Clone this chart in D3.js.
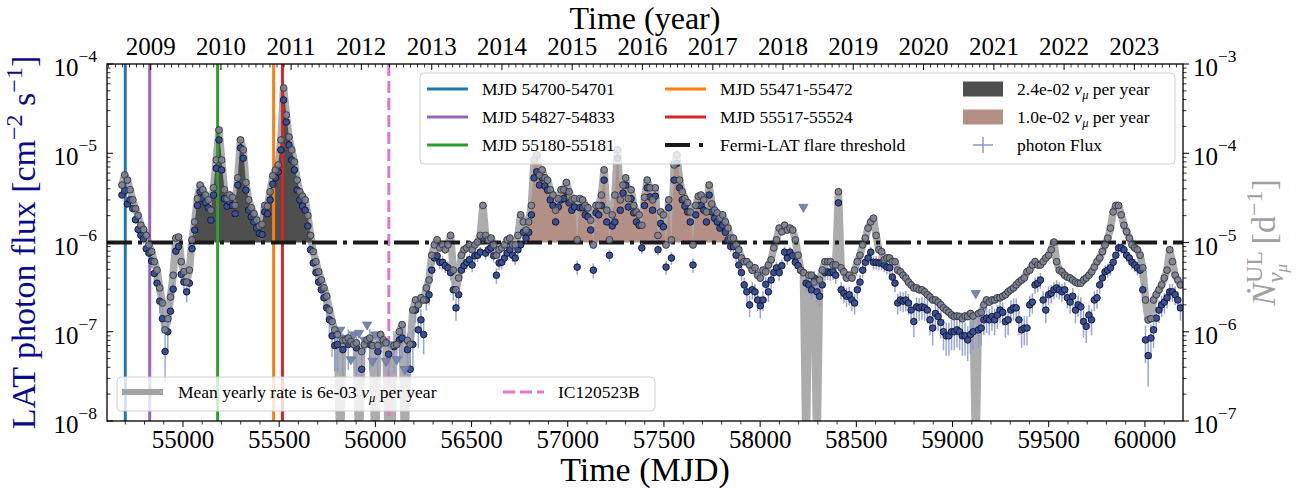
<!DOCTYPE html>
<html>
<head>
<meta charset="utf-8">
<script src="https://cdn.jsdelivr.net/npm/d3@7"></script>
<style>
  body { margin: 0; background: #fff; }
  svg text { font-family: "Liberation Serif", "Times New Roman", serif; }
</style>
</head>
<body>
<svg id="chart" width="1309" height="493"></svg>
<script>
// ---- Light curve: 14-day bins starting at MJD 54683 ----
const binStart = 54683;
const binWidth = 14;

// LAT photon flux per bin, in 1e-7 cm^-2 s^-1 (null: only an upper limit)
const flux = [
  34, 38, 27, 30, 24, 18, 14, 12, 11, 8.5, 7.6, 6.2, 4.5, 3.5, 2.2, 1.4, 0.6, 1.0, 1.7, 3.0,
  8.0, 9.0, 4.4, 3.6, 2.8, 3.5, 8.5, 13.8, 26, 37, 31, 28, 24.5, 17.8, 34, 68, 141, 65, 31, 25.5,
  28.5, 26, 21, 44, 115, 88, 38.6, 23, 19.4, 17, 14.5, 12.6, 12.3, 22, 21, 30, 45, 53, 62, 109,
  395, 224, 124, 84, 65, 38.6, 30, 25.5, 23, 15.3, 8.3, 5.9, 4.6, 3.6, 2.95, 2.4, 1.85, 1.36, 0.9, 0.7,
  0.72, null, 0.63, null, 0.72, null, null, 0.66, null, 0.38, null, null, 0.72, null, null, 0.6, null, null, null, 0.56,
  null, 0.68, null, 0.81, 0.85, null, 0.63, 0.38, 0.72, 1.75, 1.05, 1.36, 0.93, 2.27, 2.6, 4.9, 6.7, 7.1, 6.0, 6.0,
  5.5, 5.2, 4.6, 2.95, 1.85, 2.6, 4.9, 5.5, 6.0, 6.4, 5.6, 7.1, 7.2, 7.8, 11.2, 7.6, 8.3, 8.7, 7.1, 4.3,
  5.9, 6.0, 6.7, 7.6, 8.3, 7.2, 6.7, 8.3, 9.4, 13, 11.2, 13, 20.4, 53, 62, 44, 53, 43, 38.6, 30,
  26, 17, 25, 30, 31, 37, 27.8, 23, 25, 5.3, 24.5, 24.5, 20.4, 19.4, 13.8, 4.9, 21.5, 20.4, 26, 50,
  17, 7.2, 15.3, 17, 88, 23, 35.8, 44, 25, 31, 21.5, 17, 15.6, 8.7, 26, 41, 32.4, 23, 33, 8.3,
  16.3, 15, 5.3, 24.5, 6.7, 50, 77, 41, 30, 25.5, 22, 17, 5.6, 20.4, 26, 26, 23, 17, 34, 22,
  18.7, 17, 14.5, 15.6, 13, 10.7, 9.0, 9.0, 7.2, 5.6, 4.6, 3.35, 2.8, 2.0, 2.95, 2.8, 2.27, 1.95, 2.27, 3.4,
  2.8, 3.8, 4.6, 5.2, 4.6, 5.5, 7.8, 6.7, 7.8, 7.1, 6.0, 5.5, 4.9, null, 3.5, 3.35, 2.95, 4.0, 2.8, 2.5,
  3.35, 4.6, 4.7, 4.6, 4.7, 4.3, 27.8, 2.95, 2.7, 2.5, 2.6, 2.27, 2.1, 2.95, 3.6, 4.9, 6.0, 6.7, 7.8, 6.0,
  6.0, 5.9, 5.9, 5.6, 5.3, 5.2, 4.1, 3.5, 2.1, 2.27, 2.2, 2.27, 2.1, 1.75, 1.3, 1.9, 1.85, 1.9, 1.85, 1.75,
  1.36, 1.1, 1.6, 1.48, 1.27, 1.0, 0.9, 0.9, 1.0, 1.0, 1.05, 1.0, 0.9, 0.9, 0.81, 0.93, 1.0, null, 1.05, 1.1,
  1.36, 1.42, 1.36, 1.48, 1.36, 1.54, 1.75, 1.65, 1.3, 1.36, 1.75, 1.85, 1.85, 1.36, 1.05, 1.1, 1.1, 2.0, 2.15, 3.35,
  3.5, 3.8, 2.27, 1.75, 2.6, 2.7, 2.95, 3.1, 2.95, 2.8, 2.95, 2.4, 2.15, 2.5, 1.75, 2.0, 1.9, 1.3, 1.15, 1.54,
  1.36, 2.27, 2.4, 3.35, 4.0, 4.7, 4.9, 5.2, 6.0, 7.2, 8.7, 8.7, 8.3, 7.2, 6.7, 6.0, 5.6, 5.2, 4.9, 2.95,
  0.81, 0.54, 0.85, 1.05, 1.42, 1.75, 2.0, 2.15, 2.4, 2.8, 2.8, 2.6, 2.27, 1.85
];

// Relative flux uncertainty per bin, percent
const fluxErr = [
  7, 7, 8, 8, 9, 10, 12, 12, 13, 14, 15, 17, 20, 22, 26, 32, 55, 38, 28, 22,
  14, 13, 20, 22, 24, 22, 14, 12, 8, 7, 7, 8, 8, 10, 7, 5, 4, 5, 7, 8,
  8, 8, 9, 6, 4, 5, 7, 9, 10, 10, 11, 12, 12, 9, 9, 8, 6, 6, 5, 4,
  3, 3, 4, 5, 5, 7, 8, 8, 9, 11, 14, 17, 19, 21, 23, 25, 28, 33, 42, 48,
  50, 0, 52, 0, 48, 0, 0, 50, 0, 60, 0, 0, 48, 0, 0, 52, 0, 0, 0, 55,
  0, 50, 0, 45, 42, 0, 52, 62, 48, 28, 38, 33, 40, 24, 23, 18, 16, 16, 17, 17,
  17, 18, 19, 24, 28, 25, 18, 17, 17, 16, 17, 16, 16, 15, 12, 15, 14, 14, 16, 20,
  17, 17, 16, 15, 14, 16, 16, 14, 13, 11, 12, 11, 9, 6, 6, 7, 6, 7, 7, 8,
  8, 10, 8, 8, 8, 7, 8, 9, 8, 18, 8, 8, 9, 9, 11, 19, 9, 9, 8, 6,
  10, 16, 10, 10, 5, 9, 7, 7, 8, 8, 9, 10, 10, 14, 8, 7, 8, 9, 8, 14,
  10, 11, 18, 8, 16, 6, 5, 7, 8, 8, 9, 10, 18, 9, 8, 8, 9, 10, 7, 9,
  10, 10, 11, 11, 12, 13, 14, 13, 16, 17, 19, 21, 23, 27, 22, 23, 25, 28, 25, 21,
  23, 20, 19, 17, 19, 17, 15, 16, 15, 16, 17, 17, 18, 0, 21, 21, 22, 20, 23, 24,
  21, 19, 19, 19, 19, 20, 8, 22, 23, 24, 24, 25, 26, 22, 21, 18, 17, 16, 15, 17,
  17, 17, 17, 17, 17, 18, 20, 21, 26, 25, 25, 25, 26, 28, 33, 28, 28, 28, 28, 29,
  33, 36, 30, 31, 34, 38, 40, 40, 38, 38, 37, 38, 40, 40, 42, 39, 38, 0, 37, 36,
  33, 32, 33, 31, 33, 30, 29, 29, 34, 33, 29, 28, 28, 33, 37, 36, 36, 27, 26, 21,
  21, 20, 25, 29, 24, 23, 22, 22, 22, 23, 22, 24, 26, 24, 29, 27, 28, 34, 35, 30,
  33, 25, 24, 21, 20, 19, 18, 18, 17, 16, 14, 14, 14, 16, 16, 17, 17, 18, 18, 22,
  45, 55, 42, 37, 32, 29, 27, 26, 24, 23, 23, 24, 25, 28
];

// Neutrino rate upper limit per bin, in 1e-6 d^-1 (0: no limit in that bin)
const rateUL = [
  44, 57, 50, 39, 30, 24, 20, 15.6, 14, 12, 9.4, 7.9, 6.1, 4.9, 3.1, 2.1, 1.05, 1.4, 2.45, 4.3,
  11.2, 11.5, 6.1, 4.7, 3.6, 4.9, 10.7, 17, 31, 44, 39, 34, 30, 23, 41, 84, 182, 84, 39, 31,
  34, 32, 26, 53, 141, 109, 47, 30, 24.5, 21, 17.8, 15.3, 16, 26, 25.5, 37, 56, 65, 74, 141,
  538, 268, 152, 109, 80, 50, 37, 33, 30, 20, 12, 7.9, 6.1, 4.7, 3.8, 3.1, 2.5, 1.75, 1.3, 1.05,
  0.93, 0, 0.8, 0.81, 0.85, 0.78, 0.72, 0.75, 0, 0.6, 0.72, 0.81, 0.85, 0.7, 0, 0.7, 0.93, 0.81, 0.75, 0,
  0, 0.7, 0.72, 1.0, 1.2, 0, 0.8, 0.72, 1.75, 2.27, 2.0, 2.4, 2.27, 3.1, 3.8, 7.2, 9.4, 10.7, 8.7, 9.4,
  8.3, 9.4, 12, 4.9, 2.95, 4.0, 7.2, 8.3, 8.7, 9.4, 8.3, 9.4, 10.1, 12, 26, 12, 10.7, 11.2, 9.4, 7.2,
  8.3, 8.7, 9.4, 10.7, 11.2, 9.4, 9.4, 12, 20.4, 17, 13.8, 17, 26, 84, 96, 57, 65, 53, 50, 39,
  34, 23, 31, 39, 39, 47, 37, 30, 31, 10.7, 31, 30, 26, 24.5, 17.8, 9.4, 26, 26, 34, 65,
  23, 10.7, 20.4, 34, 109, 30, 44, 53, 31, 39, 26, 22, 20.4, 15.6, 32, 50, 41, 30, 41, 12,
  22, 20.4, 9.4, 30, 10.7, 74, 96, 50, 37, 31, 28, 22, 9.4, 26, 33, 34, 30, 22, 44, 27,
  23, 21.5, 18.7, 20.4, 17, 14.5, 11.2, 11.2, 9.4, 8.3, 6.7, 6.1, 6.1, 5.6, 4.9, 5.2, 4.3, 4.0, 4.9, 4.7,
  5.6, 6.4, 8.7, 10.7, 14.5, 13.2, 15.6, 13.8, 14.5, 13.8, 10.7, 7.2, 4.9, 4.6, 0, 4.3, 4.3, 3.6, 0, 3.8,
  4.9, 6.1, 6.1, 6.1, 5.6, 5.6, 37, 5.2, 4.7, 4.0, 4.3, 4.0, 4.9, 6.1, 7.2, 9.4, 11.2, 14.5, 17, 18.7,
  12, 8.3, 7.9, 6.4, 6.7, 6.7, 6.1, 6.1, 4.9, 4.7, 4.3, 4.0, 3.6, 3.35, 3.1, 3.1, 2.95, 2.95, 2.8, 2.6,
  2.45, 2.27, 2.27, 2.15, 2.0, 1.85, 1.75, 1.65, 1.54, 1.48, 1.5, 1.48, 1.4, 1.5, 1.48, 1.6, 1.5, 0, 1.6, 1.65,
  2.0, 2.27, 2.15, 2.27, 2.27, 2.4, 2.4, 2.5, 2.6, 2.8, 2.95, 3.1, 3.35, 3.6, 3.8, 4.0, 4.7, 4.9, 5.6, 6.1,
  5.6, 5.6, 6.1, 6.7, 7.2, 8.3, 10.1, 6.1, 4.9, 4.7, 4.3, 4.1, 4.0, 3.8, 3.6, 3.5, 3.5, 3.8, 4.0, 4.3,
  4.7, 5.3, 6.1, 6.7, 7.9, 9.4, 11.2, 14.5, 22, 26, 26, 20.4, 15.6, 13.2, 11.2, 9.4, 8.7, 8.3, 7.2, 5.2,
  2.27, 1.36, 1.4, 2.27, 2.6, 2.95, 3.35, 4.0, 4.9, 8.3, 6.1, 4.3, 3.8, 3.35
];

// Flux upper limits (bins without a detection), 1e-7 cm^-2 s^-1
const ulMjd  = [55817, 55845, 55873, 55887, 55915, 55943, 55957, 55985, 55999, 56027, 56041, 56055, 56083, 56111, 56153, 58225, 59121];
const ulFlux = [1.05, 0.85, 0.49, 0.93, 0.97, 0.81, 1.2, 0.47, 0.93, 0.72, 0.78, 0.47, 0.72, 0.49, 0.38, 25, 2.7];

// Periods shaded above the flare threshold
const flarePeriods = [
  { start: 55030, end: 55700, color: "#4f4f4f", label: "2.4e-02" },
  { start: 56780, end: 57840, color: "#b38f86", label: "1.0e-02" }
];

// Marked flare windows
const windowLabels = ["MJD 54700-54701", "MJD 54827-54833", "MJD 55180-55181", "MJD 55471-55472", "MJD 55517-55524"];
const windowMjd    = [54700, 54827, 55180, 55471, 55517];
const windowColors = ["#1f77b4", "#9467bd", "#2ca02c", "#ff7f0e", "#d62728"];

const neutrinoName = "IC120523B";
const neutrinoMjd = 56070;
const fluxThreshold = 1e-6;     // cm^-2 s^-1
const rateThreshold = 1e-5;     // d^-1
const meanRateText = "6e-03";

const yearLabels = [2009, 2010, 2011, 2012, 2013, 2014, 2015, 2016, 2017, 2018, 2019, 2020, 2021, 2022, 2023];
const yearMjd    = [54832, 55197, 55562, 55927, 56293, 56658, 57023, 57388, 57754, 58119, 58484, 58849, 59215, 59580, 59945];
const mjdTicks   = [55000, 55500, 56000, 56500, 57000, 57500, 58000, 58500, 59000, 59500, 60000];

// ---- layout ----
const X0 = 107, X1 = 1183, Y0 = 64, Y1 = 421;
const svg = d3.select("#chart");
const x  = d3.scaleLinear().domain([54605, 60198]).range([X0, X1]);
const yL = d3.scaleLog().domain([1e-8, 1e-4]).range([Y1, Y0]);
const yR = d3.scaleLog().domain([1e-7, 1e-3]).range([Y1, Y0]);

const bins = flux.map((f, i) => ({
  mjd: binStart + binWidth * i,
  f: f == null ? null : f * 1e-7,
  e: fluxErr[i] / 100,
  r: rateUL[i] * 1e-6
}));

function rich(sel, parts) {
  parts.forEach(p => {
    const ts = sel.append("tspan").text(p.t);
    if (p.i) ts.attr("font-style", "italic");
    if (p.s) ts.attr("font-size", p.s);
    if (p.dy) ts.attr("dy", p.dy);
    if (p.dx) ts.attr("dx", p.dx);
  });
  return sel;
}

svg.append("defs").append("clipPath").attr("id", "plotClip")
  .append("rect").attr("x", X0).attr("y", Y0).attr("width", X1 - X0).attr("height", Y1 - Y0);

const plot = svg.append("g").attr("clip-path", "url(#plotClip)");

// rate curve (thick grey band); empty bins drop just below the axis
const rateY = d => d.r > 0 ? yR(d.r) : Y1 + 40;
plot.append("path")
  .datum(bins)
  .attr("d", d3.line().x(d => x(d.mjd)).y(rateY))
  .attr("fill", "none").attr("stroke", "#a3a3a3").attr("stroke-opacity", 0.9)
  .attr("stroke-width", 7.5).attr("stroke-linejoin", "round").attr("stroke-linecap", "round");

// shaded flare periods
flarePeriods.forEach(p => {
  const seg = bins.filter(d => d.mjd >= p.start && d.mjd <= p.end);
  plot.append("path").datum(seg)
    .attr("d", d3.area().x(d => x(d.mjd))
      .y0(yR(rateThreshold))
      .y1(d => yR(Math.max(d.r, rateThreshold))))
    .attr("fill", p.color);
});

// flare windows
windowMjd.forEach((m, i) => {
  plot.append("line").attr("x1", x(m)).attr("x2", x(m)).attr("y1", Y0).attr("y2", Y1)
    .attr("stroke", windowColors[i]).attr("stroke-width", 3);
});

// neutrino alert
plot.append("line").attr("x1", x(neutrinoMjd)).attr("x2", x(neutrinoMjd)).attr("y1", Y0).attr("y2", Y1)
  .attr("stroke", "#e377c2").attr("stroke-width", 3).attr("stroke-dasharray", "12,5");

// flare threshold
plot.append("line").attr("x1", X0).attr("x2", X1).attr("y1", yL(fluxThreshold)).attr("y2", yL(fluxThreshold))
  .attr("stroke", "#1a1a1a").attr("stroke-width", 4).attr("stroke-dasharray", "25,6,4,6");

// photon flux: error bars, points, upper limits
const det = bins.filter(d => d.f != null);
plot.append("g").selectAll("line").data(det).join("line")
  .attr("x1", d => x(d.mjd)).attr("x2", d => x(d.mjd))
  .attr("y1", d => yL(d.f * (1 - d.e))).attr("y2", d => yL(d.f * (1 + d.e)))
  .attr("stroke", "#8797cf").attr("stroke-opacity", 0.85).attr("stroke-width", 1.5);
plot.append("g").selectAll("circle").data(det).join("circle")
  .attr("cx", d => x(d.mjd)).attr("cy", d => yL(d.f)).attr("r", 3.3)
  .attr("fill", "#3a4f9a").attr("stroke", "#10121c").attr("stroke-width", 0.9);
const tri = d3.symbol().type(d3.symbolTriangle).size(38);
plot.append("g").selectAll("path").data(ulMjd.map((m, i) => ({ mjd: m, f: ulFlux[i] * 1e-7 }))).join("path")
  .attr("d", tri)
  .attr("transform", d => `translate(${x(d.mjd)},${yL(d.f)}) rotate(180)`)
  .attr("fill", "#7985ab").attr("stroke", "#5d6a92").attr("stroke-width", 0.6);

// rate points
plot.append("g").selectAll("circle").data(bins.filter(d => d.r > 0)).join("circle")
  .attr("cx", d => x(d.mjd)).attr("cy", d => yR(d.r)).attr("r", 3.4)
  .attr("fill", "#7b8091").attr("fill-opacity", 0.85)
  .attr("stroke", "#2b2d33").attr("stroke-width", 0.8);

// ---- axes ----
const ax = svg.append("g").attr("stroke", "#000");
function tick(x1, y1, x2, y2, w) {
  ax.append("line").attr("x1", x1).attr("y1", y1).attr("x2", x2).attr("y2", y2).attr("stroke-width", w || 1);
}
const decades = [-8, -7, -6, -5, -4];
decades.forEach((k, j) => {
  const v = Math.pow(10, k);
  tick(X0, yL(v), X0 + 6, yL(v));
  tick(X1, yL(v), X1 + 6, yL(v));
  if (j < decades.length - 1) {
    for (let m = 2; m <= 9; m++) {
      tick(X0, yL(m * v), X0 + 3.5, yL(m * v), 0.8);
      tick(X1, yL(m * v), X1 + 3.5, yL(m * v), 0.8);
    }
  }
});
for (let m = 54700; m <= 60100; m += 100) {
  const major = m % 500 === 0;
  tick(x(m), Y1, x(m), Y1 + (major ? 6 : 3.5), major ? 1 : 0.8);
}
yearMjd.forEach(m => tick(x(m), Y0, x(m), Y0 + 6));
for (let yr = 2008; yr <= 2024; yr++) {
  const base = 54466 + (yr - 2008) * 365.25;
  for (let q = 1; q < 10; q++) {
    const m = base + q * 36.525;
    if (m > 54605 && m < 60198) tick(x(m), Y0, x(m), Y0 + 3.5, 0.8);
  }
}
svg.append("rect").attr("x", X0).attr("y", Y0).attr("width", X1 - X0).attr("height", Y1 - Y0)
  .attr("fill", "none").attr("stroke", "#000").attr("stroke-width", 1.3);

// tick labels
decades.forEach(k => {
  rich(svg.append("text").attr("x", X0 - 10).attr("y", yL(Math.pow(10, k)) + 12)
    .attr("text-anchor", "end").attr("font-size", 25),
    [{ t: "10" }, { t: "\u2212" + (-k), s: 17.5, dy: -14 }]);
  rich(svg.append("text").attr("x", X1 + 10).attr("y", yL(Math.pow(10, k)) + 12)
    .attr("text-anchor", "start").attr("font-size", 25),
    [{ t: "10" }, { t: "\u2212" + (-k - 1), s: 17.5, dy: -14 }]);
});
mjdTicks.forEach(m => {
  svg.append("text").attr("x", x(m)).attr("y", Y1 + 27).attr("text-anchor", "middle")
    .attr("font-size", 25).text(m);
});
yearLabels.forEach((yv, i) => {
  svg.append("text").attr("x", x(yearMjd[i])).attr("y", Y0 - 9).attr("text-anchor", "middle")
    .attr("font-size", 25).text(yv);
});

// axis titles
svg.append("text").attr("x", (X0 + X1) / 2).attr("y", 481).attr("text-anchor", "middle")
  .attr("font-size", 34).text("Time (MJD)");
svg.append("text").attr("x", (X0 + X1) / 2).attr("y", 28.5).attr("text-anchor", "middle")
  .attr("font-size", 32).text("Time (year)");
rich(svg.append("text").attr("transform", `translate(35,${(Y0 + Y1) / 2}) rotate(-90)`)
  .attr("text-anchor", "middle").attr("font-size", 34).attr("fill", "#0a0a8a"),
  [{ t: "LAT photon flux [cm" }, { t: "\u22122", s: 24, dy: -13 }, { t: " s", dy: 13 },
   { t: "\u22121", s: 24, dy: -13 }, { t: "]", dy: 13 }]);
rich(svg.append("text").attr("transform", `translate(1275,${(Y0 + Y1) / 2}) rotate(-90)`)
  .attr("text-anchor", "middle").attr("font-size", 34).attr("fill", "#a0a0a0"),
  [{ t: "N\u0307", i: true }, { t: "UL", s: 24, dy: -13 }, { t: "\u03bd", i: true, s: 24, dx: -32, dy: 21 },
   { t: "\u03bc", i: true, s: 17, dy: 4 }, { t: " [d", dx: 11, dy: -12 }, { t: "\u22121", s: 24, dy: -13 }, { t: "]", dy: 13 }]);

// ---- legends ----
const fs = 17.5;
const lg = svg.append("g");
lg.append("rect").attr("x", 420).attr("y", 73).attr("width", 755).attr("height", 91).attr("rx", 4)
  .attr("fill", "#fff").attr("fill-opacity", 0.8).attr("stroke", "#d0d0d0");
const rows = [89, 117, 145];
windowLabels.forEach((t, i) => {
  const col = i < 3 ? 0 : 1, row = i % 3;
  const lx = col === 0 ? 427 : 665;
  lg.append("line").attr("x1", lx).attr("x2", lx + 41).attr("y1", rows[row]).attr("y2", rows[row])
    .attr("stroke", windowColors[i]).attr("stroke-width", 3);
  lg.append("text").attr("x", lx + 55).attr("y", rows[row] + 6).attr("font-size", fs).text(t);
});
lg.append("line").attr("x1", 665).attr("x2", 706).attr("y1", rows[2]).attr("y2", rows[2])
  .attr("stroke", "#1a1a1a").attr("stroke-width", 4).attr("stroke-dasharray", "25,9,4,20");
lg.append("text").attr("x", 720).attr("y", rows[2] + 6).attr("font-size", fs).text("Fermi-LAT flare threshold");
flarePeriods.forEach((p, i) => {
  lg.append("rect").attr("x", 963).attr("y", rows[i] - 7.5).attr("width", 40).attr("height", 15).attr("fill", p.color);
  rich(lg.append("text").attr("x", 1017).attr("y", rows[i] + 6).attr("font-size", fs),
    [{ t: p.label + " " }, { t: "\u03bd", i: true }, { t: "\u03bc", i: true, s: 12.5, dy: 4 }, { t: " per year", dy: -4 }]);
});
lg.append("line").attr("x1", 973).attr("x2", 993).attr("y1", rows[2]).attr("y2", rows[2])
  .attr("stroke", "#8797cf").attr("stroke-width", 1.5);
lg.append("line").attr("x1", 983).attr("x2", 983).attr("y1", rows[2] - 8).attr("y2", rows[2] + 8)
  .attr("stroke", "#8797cf").attr("stroke-width", 1.5);
lg.append("text").attr("x", 1017).attr("y", rows[2] + 6).attr("font-size", fs).text("photon Flux");

const lg2 = svg.append("g");
lg2.append("rect").attr("x", 117).attr("y", 377).attr("width", 538).attr("height", 34).attr("rx", 4)
  .attr("fill", "#fff").attr("fill-opacity", 0.8).attr("stroke", "#d0d0d0");
lg2.append("line").attr("x1", 122).attr("x2", 163).attr("y1", 392).attr("y2", 392)
  .attr("stroke", "#a3a3a3").attr("stroke-width", 6);
rich(lg2.append("text").attr("x", 178).attr("y", 398).attr("font-size", fs),
  [{ t: "Mean yearly rate is " + meanRateText + " " }, { t: "\u03bd", i: true }, { t: "\u03bc", i: true, s: 12.5, dy: 4 }, { t: " per year", dy: -4 }]);
lg2.append("line").attr("x1", 503).attr("x2", 544).attr("y1", 392).attr("y2", 392)
  .attr("stroke", "#e377c2").attr("stroke-width", 3).attr("stroke-dasharray", "12,5");
lg2.append("text").attr("x", 558).attr("y", 398).attr("font-size", fs).text(neutrinoName);
</script>
</body>
</html>
